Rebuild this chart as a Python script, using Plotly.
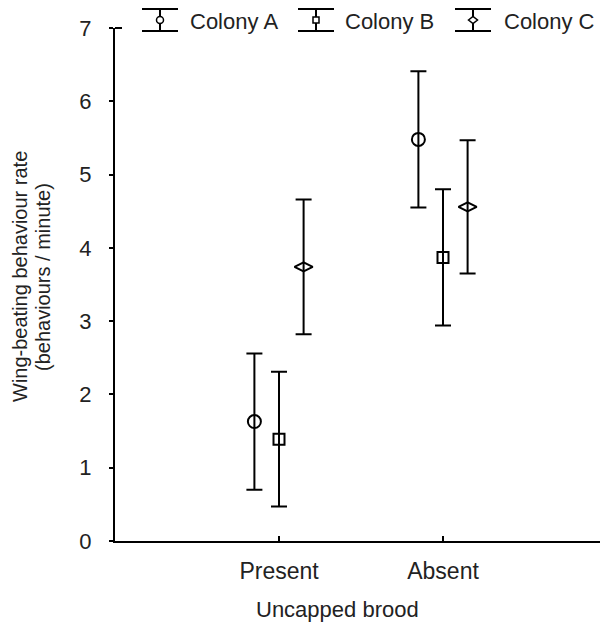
import plotly.graph_objects as go

categories = ["Present", "Absent"]
cat_pos = [1, 2]
colonies = ["Colony A", "Colony B", "Colony C"]
offsets = [-0.15, 0.0, 0.15]
symbols = ["circle-open", "square-open", "diamond-wide-open"]
sizes = [13, 11, 13]

means = {
    "Colony A": [1.63, 5.48],
    "Colony B": [1.39, 3.87],
    "Colony C": [3.74, 4.56],
}
errors = {
    "Colony A": [0.93, 0.93],
    "Colony B": [0.92, 0.93],
    "Colony C": [0.92, 0.91],
}

# page has an 8px body margin, so the figure is drawn 8px smaller and offset
OFF = 8
W, H = 608 - OFF, 629 - OFF
ML, MR, MT, MB = 115 - OFF, 1, 28 - OFF, 88
PW, PH = W - ML - MR, H - MT - MB


def px(x):
    # x in page pixels -> paper fraction
    return (x - OFF - ML) / PW


def py(y):
    # y in page pixels -> paper fraction
    return (H - MB - (y - OFF)) / PH


fig = go.Figure()
for name, off, sym, sz in zip(colonies, offsets, symbols, sizes):
    fig.add_trace(go.Scatter(
        x=[p + off for p in cat_pos],
        y=means[name],
        mode="markers",
        name=name,
        showlegend=False,
        marker=dict(symbol=sym, size=sz, color="black", line=dict(width=2, color="black")),
        error_y=dict(type="data", array=errors[name], visible=True,
                     color="black", thickness=2, width=8),
    ))

fam = "Liberation Sans, Arial, sans-serif"
col = "#222"
fig.update_layout(
    width=W, height=H,
    margin=dict(l=ML, r=MR, t=MT, b=MB),
    paper_bgcolor="white", plot_bgcolor="white",
    font=dict(family=fam, color=col, size=20),
    showlegend=False,
    xaxis=dict(range=[0, 3], tickvals=cat_pos, ticktext=categories, automargin=False,
               showline=True, linecolor="black", linewidth=2,
               ticks="inside", ticklen=5, tickwidth=2, tickcolor="black",
               ticklabelstandoff=8,
               showgrid=False, zeroline=False,
               tickfont=dict(size=23, family=fam, color=col)),
    yaxis=dict(range=[0, 7], dtick=1, automargin=False,
               showline=True, linecolor="black", linewidth=2,
               ticks="outside", ticklen=4, tickwidth=2, tickcolor="black",
               ticklabelstandoff=13,
               showgrid=False, zeroline=False,
               tickfont=dict(size=22, family=fam, color=col)),
)

# small cap at top of y axis
fig.add_shape(type="line", xref="paper", yref="paper", x0=0, x1=px(122), y0=1, y1=1,
              line=dict(color="black", width=2))

# axis titles
fig.add_annotation(text="Uncapped brood", xref="paper", yref="paper",
                   x=px(337), y=py(609), xanchor="center", yanchor="middle",
                   showarrow=False, font=dict(size=22, family=fam, color=col))
fig.add_annotation(text="Wing-beating behaviour rate", xref="paper", yref="paper",
                   x=px(20), y=py(277), xanchor="center", yanchor="middle", textangle=-90,
                   showarrow=False, font=dict(size=20, family=fam, color=col))
fig.add_annotation(text="(behaviours / minute)", xref="paper", yref="paper",
                   x=px(43), y=py(277), xanchor="center", yanchor="middle", textangle=-90,
                   showarrow=False, font=dict(size=20, family=fam, color=col))

# legend (custom, with error-bar glyphs)
leg_cx = [160, 316, 473]
leg_tx = [188, 343, 502]
leg_y = 20
for name, cx, tx, sym in zip(colonies, leg_cx, leg_tx, symbols):
    lw = dict(color="black", width=2)
    fig.add_shape(type="line", xref="paper", yref="paper", x0=px(cx), x1=px(cx),
                  y0=py(9), y1=py(31), line=lw)
    for yy in (9, 31):
        fig.add_shape(type="line", xref="paper", yref="paper", x0=px(cx - 18), x1=px(cx + 18),
                      y0=py(yy), y1=py(yy), line=lw)
    mk = dict(color="black", width=1.5)
    if sym.startswith("circle"):
        fig.add_shape(type="circle", xref="paper", yref="paper", x0=px(cx - 3.5), x1=px(cx + 3.5),
                      y0=py(leg_y + 3.5), y1=py(leg_y - 3.5), line=mk, fillcolor="white")
    elif sym.startswith("square"):
        fig.add_shape(type="rect", xref="paper", yref="paper", x0=px(cx - 3), x1=px(cx + 3),
                      y0=py(leg_y + 3), y1=py(leg_y - 3), line=mk, fillcolor="white")
    else:
        path = "M {} {} L {} {} L {} {} L {} {} Z".format(
            px(cx - 4.5), py(leg_y), px(cx), py(leg_y - 3.5),
            px(cx + 4.5), py(leg_y), px(cx), py(leg_y + 3.5))
        fig.add_shape(type="path", xref="paper", yref="paper", path=path, line=mk,
                      fillcolor="white")
    fig.add_annotation(text=name, xref="paper", yref="paper", x=px(tx), y=py(21),
                       xanchor="left", yanchor="middle", showarrow=False,
                       font=dict(size=22, family=fam, color=col))

fig.write_html("out.html")
